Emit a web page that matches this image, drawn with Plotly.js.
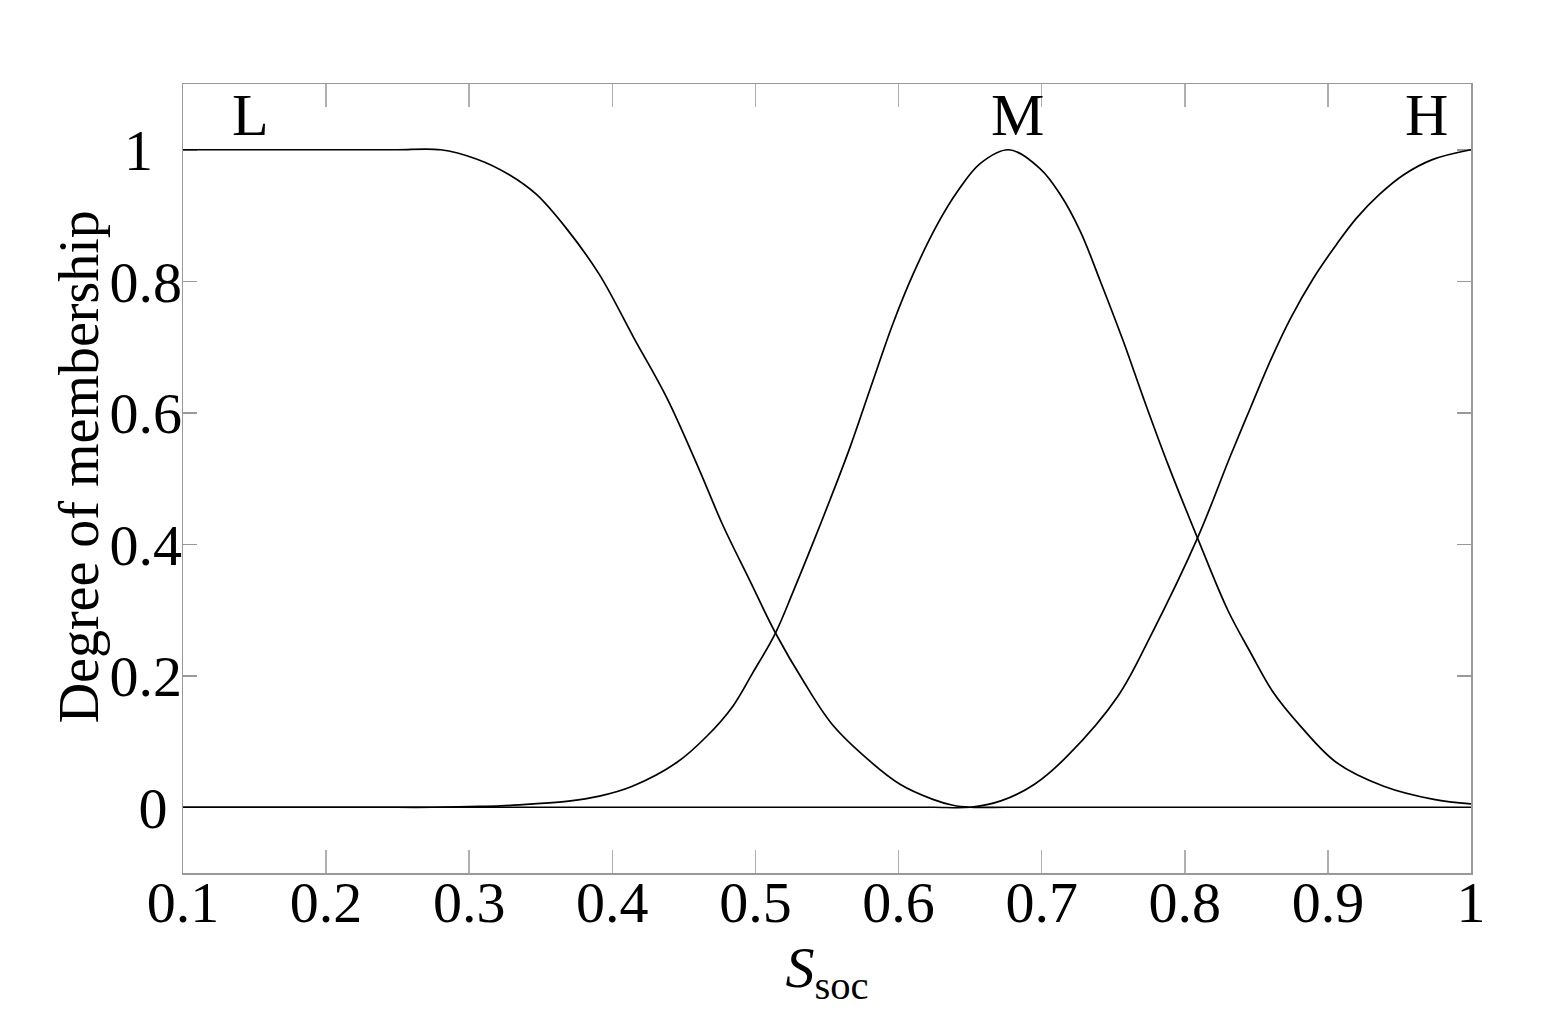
<!DOCTYPE html>
<html>
<head>
<meta charset="utf-8">
<script src="https://cdn.plot.ly/plotly-3.0.1.min.js"></script>
<style>
  body { margin: 0; background: #fff; }
  #myDiv { width: 1541px; height: 1026px; }
</style>
</head>
<body>
<div id="myDiv"></div>
<script>
let xL = [0.1, 0.125, 0.15, 0.175, 0.2, 0.225, 0.25, 0.28, 0.305, 0.328, 0.347, 0.368, 0.391, 0.415, 0.438, 0.461, 0.477, 0.496, 0.514, 0.534, 0.554, 0.58, 0.601, 0.624, 0.638, 0.65,
          0.675, 0.7, 0.725, 0.75, 0.775, 0.8, 0.825, 0.85, 0.875, 0.9, 0.925, 0.95, 0.975, 1.0];
let yL = [1, 1, 1, 1, 1, 1, 1, 1, 0.986, 0.962, 0.932, 0.88, 0.81, 0.714, 0.623, 0.512, 0.43, 0.345, 0.265, 0.19, 0.125, 0.07, 0.035, 0.012, 0.003, 0,
          0, 0, 0, 0, 0, 0, 0, 0, 0, 0, 0, 0, 0, 0];

let xM = [0.1, 0.125, 0.15, 0.175, 0.2, 0.225, 0.25, 0.275, 0.3, 0.322, 0.345, 0.368, 0.391, 0.414, 0.445, 0.466, 0.484, 0.498, 0.514, 0.526, 0.54, 0.552, 0.566, 0.582, 0.596, 0.61, 0.627, 0.641, 0.657, 0.677,
          0.699, 0.713, 0.727, 0.741, 0.757, 0.771, 0.788, 0.809, 0.83, 0.846, 0.862, 0.881, 0.906, 0.939, 0.974, 1.0];
let yM = [0, 0, 0, 0, 0, 0, 0, 0, 0.001, 0.002, 0.005, 0.009, 0.017, 0.032, 0.068, 0.108, 0.153, 0.204, 0.265, 0.326, 0.401, 0.467, 0.547, 0.648, 0.735, 0.81, 0.886, 0.936, 0.979, 1.0,
          0.971, 0.932, 0.876, 0.8, 0.709, 0.623, 0.523, 0.409, 0.3, 0.235, 0.174, 0.123, 0.068, 0.032, 0.012, 0.005];

let xH = [0.1, 0.125, 0.15, 0.175, 0.2, 0.225, 0.25, 0.275, 0.3, 0.325, 0.35, 0.375, 0.4, 0.425, 0.45, 0.475, 0.5, 0.525, 0.55, 0.575, 0.6, 0.625, 0.65,
          0.672, 0.695, 0.718, 0.753, 0.776, 0.809, 0.832, 0.846, 0.86, 0.874, 0.89, 0.906, 0.92, 0.936, 0.953, 0.973, 1.0];
let yH = [0, 0, 0, 0, 0, 0, 0, 0, 0, 0, 0, 0, 0, 0, 0, 0, 0, 0, 0, 0, 0, 0, 0,
          0.01, 0.035, 0.078, 0.168, 0.26, 0.41, 0.535, 0.608, 0.68, 0.744, 0.805, 0.856, 0.896, 0.932, 0.962, 0.985, 1.0];

let setNames = ['L', 'M', 'H'];
let labelX = [0.147, 0.683, 0.969];

let xTicks = [0.1, 0.2, 0.3, 0.4, 0.5, 0.6, 0.7, 0.8, 0.9, 1];
let xTickText = ['0.1', '0.2', '0.3', '0.4', '0.5', '0.6', '0.7', '0.8', '0.9', '1'];
let yTicks = [0, 0.2, 0.4, 0.6, 0.8, 1];
let yTickText = ['0\u00a0', '0.2', '0.4', '0.6', '0.8', '1\u00a0\u00a0'];

let serif = 'Liberation Serif, Times New Roman, serif';

let traces = [[xL, yL], [xM, yM], [xH, yH]].map(function (d, i) {
    return {
        mode: 'lines',
        type: 'scatter',
        name: setNames[i],
        x: d[0],
        y: d[1],
        line: {color: '#000', width: 1.7, shape: 'spline', smoothing: 1}
    };
});

let annotations = setNames.map(function (s, i) {
    return {
        x: labelX[i],
        y: 1.0,
        xref: 'x',
        yref: 'y',
        text: s,
        showarrow: false,
        xanchor: 'center',
        yanchor: 'bottom',
        font: {family: serif, size: 60, color: '#000'}
    };
});

// y axis title placed by hand so it sits close to the tick labels
annotations.push({
    x: -0.081,
    y: 0.515,
    xref: 'paper',
    yref: 'paper',
    text: 'Degree of membership',
    textangle: -90,
    showarrow: false,
    xanchor: 'center',
    yanchor: 'middle',
    font: {family: serif, size: 56, color: '#000'}
});

let layout = {
    width: 1541,
    height: 1026,
    margin: {l: 183, r: 70, t: 84, b: 153},
    paper_bgcolor: '#fff',
    plot_bgcolor: '#fff',
    showlegend: false,
    font: {family: serif, color: '#000', size: 58},
    xaxis: {
        range: [0.1, 1],
        tickvals: xTicks,
        ticktext: xTickText,
        ticks: 'inside',
        ticklen: 23,
        tickwidth: 1.5,
        tickcolor: '#b0b0b0',
        showline: true,
        linecolor: '#999',
        linewidth: 1.5,
        mirror: 'ticks',
        showgrid: false,
        zeroline: false,
        layer: 'below traces',
        ticklabelstandoff: -22,
        tickfont: {family: serif, size: 58, color: '#000'},
        title: {
            text: '<i>S</i><sub>soc</sub>',
            font: {family: serif, size: 58, color: '#000'},
            standoff: 0
        }
    },
    yaxis: {
        range: [-0.1, 1.1],
        tickvals: yTicks,
        ticktext: yTickText,
        ticks: 'inside',
        ticklen: 14,
        tickwidth: 1.5,
        tickcolor: '#999',
        showline: true,
        linecolor: '#999',
        linewidth: 1.5,
        mirror: 'ticks',
        showgrid: false,
        zeroline: false,
        layer: 'below traces',
        ticklabelstandoff: -12,
        tickfont: {family: serif, size: 58, color: '#000'}
    },
    annotations: annotations
};

Plotly.newPlot('myDiv', traces, layout, {displayModeBar: false, staticPlot: true});
</script>
</body>
</html>
